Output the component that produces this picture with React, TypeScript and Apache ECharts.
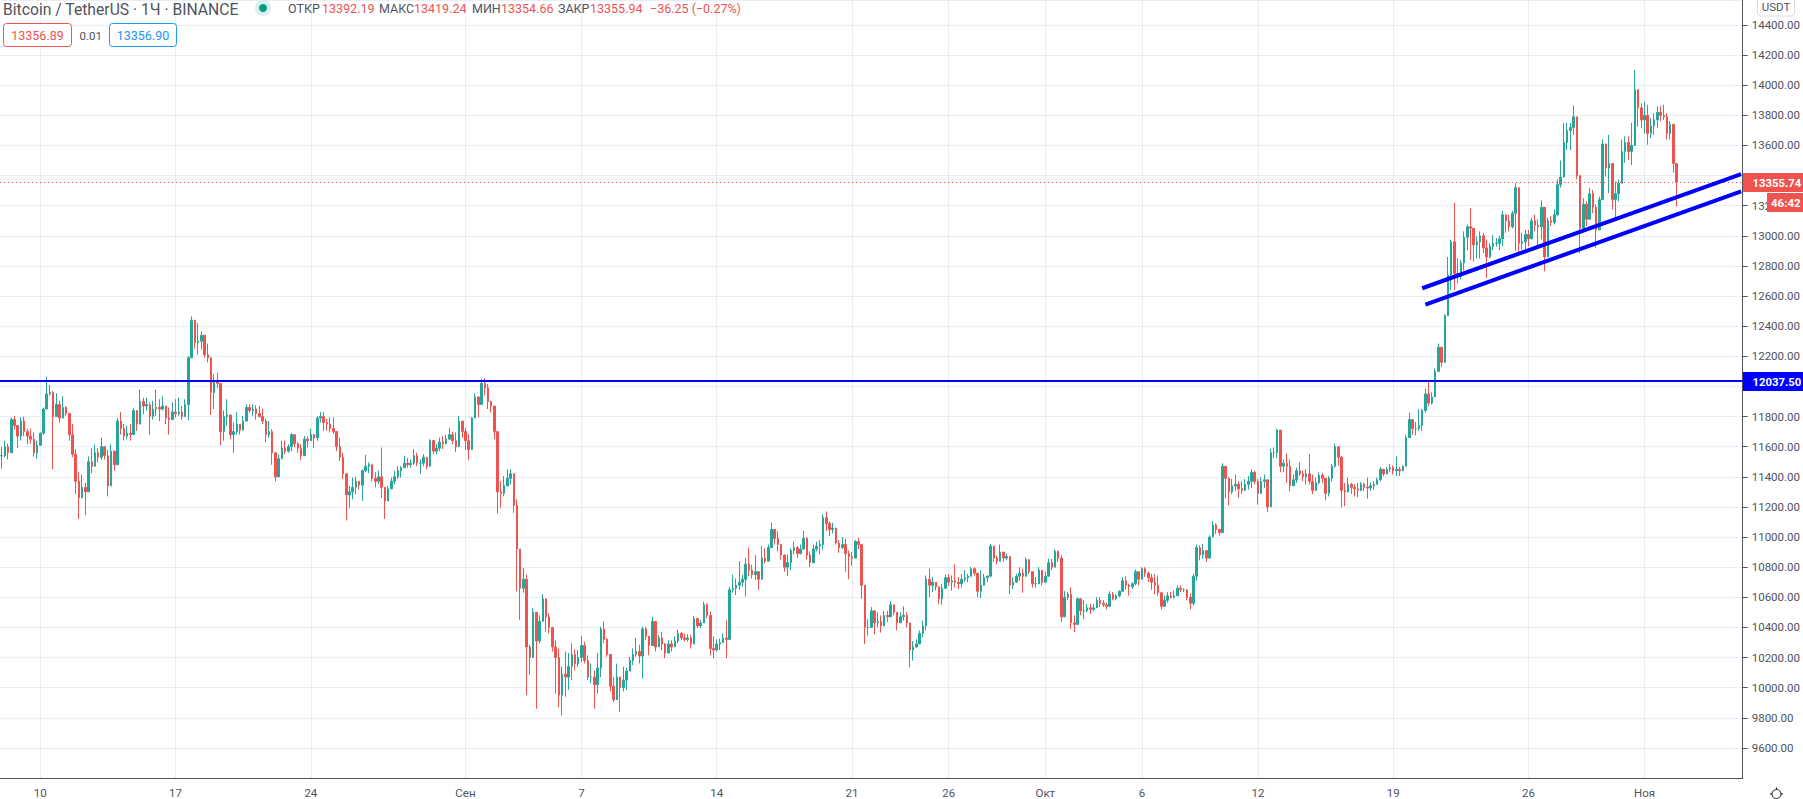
import { useEffect, useRef } from 'react'
import * as echarts from 'echarts'

// 4h candles, starting at the left edge of the plot
const closes = [
  11540,11600,11560,11780,11740,11670,11770,11700,11670,11650,
  11560,11610,11690,11850,11950,11960,11800,11880,11790,11860,
  11820,11680,11550,11370,11260,11330,11300,11500,11470,11560,
  11530,11600,11540,11340,11570,11480,11770,11720,11670,11690,
  11680,11840,11750,11900,11870,11880,11800,11850,11860,11850,
  11870,11790,11780,11830,11820,11830,11800,11880,12190,12440,
  12290,12300,12340,12210,12190,11960,12040,12020,11700,11800,
  11810,11680,11700,11750,11710,11770,11860,11840,11850,11820,
  11800,11770,11680,11700,11560,11400,11520,11590,11570,11600,
  11680,11620,11590,11540,11650,11640,11680,11660,11790,11800,
  11760,11750,11720,11700,11600,11530,11420,11280,11300,11330,
  11370,11345,11440,11470,11480,11390,11370,11400,11330,11240,
  11320,11370,11400,11440,11460,11490,11480,11490,11540,11490,
  11490,11530,11470,11640,11570,11590,11630,11620,11650,11680,
  11640,11600,11770,11700,11640,11580,11790,11930,11880,12020,
  11990,11900,11870,11700,11300,11290,11340,11390,11420,11210,
  10920,10660,10720,10270,10200,10500,10310,10440,10590,10470,
  10400,10270,10200,9950,10090,10070,10140,10220,10160,10200,
  10280,10180,10070,10070,10020,10130,10390,10320,10220,10010,
  9920,10070,10000,10050,10110,10180,10220,10240,10210,10390,
  10340,10280,10440,10270,10330,10290,10230,10290,10270,10310,
  10360,10330,10320,10330,10290,10460,10410,10430,10550,10480,
  10260,10250,10290,10300,10330,10320,10650,10660,10680,10700,
  10720,10820,10780,10750,10770,10720,10860,10840,10930,11050,
  10990,10950,10880,10800,10830,10910,10930,10890,10920,10990,
  10880,10830,10920,10940,10950,11130,11090,11050,11060,10960,
  10930,10950,10890,10870,10860,10970,10950,10680,10400,10400,
  10510,10430,10440,10410,10480,10470,10550,10500,10430,10470,
  10480,10430,10250,10270,10290,10360,10410,10720,10680,10700,
  10670,10590,10660,10730,10700,10710,10700,10690,10720,10730,
  10740,10790,10760,10640,10680,10730,10740,10940,10860,10840,
  10900,10860,10870,10680,10700,10740,10760,10740,10850,10770,
  10690,10690,10780,10700,10740,10830,10800,10905,10860,10470,
  10600,10620,10430,10420,10590,10510,10510,10530,10520,10530,
  10580,10560,10550,10540,10620,10590,10610,10640,10710,10680,
  10670,10690,10770,10720,10790,10760,10730,10700,10680,10630,
  10540,10580,10610,10600,10610,10660,10650,10650,10600,10560,
  10740,10930,10880,10910,10860,11000,11080,11050,11030,11470,
  11390,11300,11340,11350,11320,11310,11350,11370,11430,11370,
  11290,11370,11380,11200,11560,11560,11710,11470,11490,11470,
  11340,11380,11440,11420,11400,11420,11370,11310,11360,11410,
  11390,11290,11390,11470,11600,11530,11310,11300,11350,11330,
  11320,11310,11350,11330,11325,11340,11350,11380,11450,11420,
  11450,11460,11440,11450,11440,11470,11660,11780,11720,11720,
  11740,11840,11950,11890,11930,12100,12260,12160,12470,12740,
  12960,12750,12730,12820,12990,13060,13050,12940,12960,13000,
  12920,12860,12930,12950,12950,12980,13140,13100,13060,13150,
  13320,12950,12960,13010,12980,13100,13070,13060,13190,12860,
  13100,13090,13140,13340,13390,13620,13700,13720,13790,13400,
  13050,13210,13110,13280,13190,13040,13240,13610,13450,13480,
  13240,13280,13350,13560,13620,13560,13600,13970,13850,13770,
  13800,13680,13730,13770,13820,13800,13790,13680,13740,13480,
  13355.94,
]

const highs = [
  11600,11640,11620,11795,11805,11740,11795,11800,11720,11720,
  11695,11640,11695,11860,12066,12010,11970,11955,11905,11935,
  11870,11770,11750,11583,11430,11415,11360,11535,11590,11615,
  11590,11660,11595,11580,11615,11550,11790,11830,11750,11740,
  11750,11855,11830,11980,11925,11925,11895,11905,11980,11915,
  11935,11870,11860,11895,11915,11925,11870,11915,12200,12465,
  12400,12420,12365,12280,12285,12130,12080,12090,11955,11840,
  11915,11780,11760,11830,11750,11805,11880,11880,11880,11875,
  11870,11850,11785,11770,11715,11490,11550,11640,11640,11615,
  11690,11680,11630,11615,11670,11670,11720,11685,11805,11830,
  11830,11785,11795,11795,11695,11660,11560,11395,11340,11395,
  11400,11370,11450,11545,11495,11450,11430,11440,11595,11305,
  11340,11395,11440,11470,11470,11540,11525,11515,11585,11560,
  11515,11550,11525,11650,11625,11615,11660,11670,11680,11725,
  11700,11695,11805,11750,11725,11685,11795,11955,11935,12049,
  12053,12016,11905,11805,11585,11372,11405,11450,11450,11400,
  11250,10920,10795,10750,10285,10530,10500,10480,10620,10550,
  10495,10350,10315,10260,10140,10240,10230,10295,10255,10250,
  10345,10305,10215,10160,10115,10230,10405,10440,10330,10160,
  10070,10160,10070,10140,10130,10205,10260,10330,10285,10405,
  10405,10315,10470,10430,10350,10370,10295,10315,10315,10340,
  10385,10370,10360,10355,10350,10475,10460,10450,10570,10560,
  10505,10340,10320,10325,10360,10450,10670,10750,10725,10840,
  10750,10860,10930,10815,10880,10770,10940,10925,10950,11095,
  11040,11040,10925,10885,10885,10925,10970,10940,10950,11040,
  11000,10905,10950,10970,10980,11150,11170,11105,11095,11050,
  10980,11000,10990,10910,10900,10980,10995,10920,10645,10455,
  10535,10490,10500,10480,10510,10510,10575,10535,10490,10500,
  10540,10500,10410,10310,10320,10380,10445,10745,10790,10735,
  10700,10655,10690,10750,10755,10745,10820,10735,10755,10780,
  10755,10800,10800,10700,10780,10755,10745,10955,10920,10875,
  10950,10890,10890,10855,10735,10755,10800,10790,10865,10835,
  10755,10735,10800,10755,10770,10855,10855,10920,10910,10880,
  10640,10635,10665,10480,10600,10555,10580,10555,10555,10555,
  10600,10600,10580,10565,10640,10635,10620,10645,10735,10740,
  10690,10700,10785,10745,10800,10800,10770,10755,10755,10745,
  10610,10610,10635,10635,10645,10680,10680,10660,10645,10625,
  10755,10950,10945,10955,10900,11010,11105,11090,11055,11490,
  11450,11395,11385,11415,11370,11370,11385,11405,11450,11440,
  11385,11395,11415,11340,11587,11595,11720,11640,11515,11555,
  11515,11415,11460,11495,11440,11450,11550,11415,11395,11430,
  11425,11350,11405,11485,11620,11545,11540,11360,11395,11360,
  11350,11360,11365,11360,11395,11360,11370,11395,11465,11450,
  11465,11485,11475,11535,11465,11475,11675,11825,11770,11765,
  11850,11850,11985,12040,11960,12120,12285,12265,12480,12860,
  12975,13220,12850,12840,13030,13075,13185,13030,12995,13030,
  13020,12975,12950,13005,12985,13000,13165,13140,13140,13165,
  13350,13050,13020,13040,13040,13120,13140,13110,13235,13040,
  13120,13130,13175,13375,13500,13750,13750,13750,13865,13715,
  13400,13250,13230,13320,13305,13210,13260,13640,13560,13670,
  13420,13360,13375,13640,13660,13660,13750,14100,13945,13880,
  13890,13870,13780,13815,13860,13860,13870,13815,13760,13580,
  13440,
]

const lows = [
  11454,11530,11515,11615,11715,11590,11640,11670,11615,11620,
  11535,11520,11615,11680,11915,11938,11450,11825,11760,11795,
  11805,11640,11530,11285,11120,11295,11145,11415,11425,11470,
  11495,11515,11515,11270,11370,11440,11495,11680,11640,11650,
  11640,11740,11705,11815,11815,11840,11680,11780,11805,11770,
  11840,11750,11680,11805,11795,11805,11780,11840,11775,12200,
  12250,12210,12245,12190,12160,11810,11850,11990,11610,11640,
  11740,11650,11560,11680,11680,11735,11805,11825,11805,11780,
  11795,11750,11630,11660,11480,11370,11405,11535,11550,11560,
  11570,11595,11560,11510,11550,11595,11640,11590,11640,11760,
  11705,11705,11695,11685,11570,11505,11385,11110,11195,11250,
  11285,11315,11240,11430,11425,11370,11330,11350,11260,11120,
  11250,11330,11350,11385,11395,11460,11460,11460,11480,11470,
  11420,11470,11450,11470,11550,11550,11570,11585,11615,11660,
  11615,11565,11640,11660,11580,11510,11600,11790,11795,11938,
  11942,11850,11827,11650,11157,11195,11270,11340,11350,11160,
  10640,10450,10630,9950,10085,10340,9860,10295,10450,10370,
  10360,10240,9960,9870,9815,9940,9985,10050,10115,10140,
  10170,10160,10050,10030,9860,9960,10070,10295,10205,9975,
  9905,9960,9840,9975,9985,10130,10150,10205,10160,10060,
  10315,10215,10315,10240,10270,10250,10195,10240,10240,10285,
  10295,10315,10305,10305,10260,10340,10395,10395,10505,10460,
  10215,10195,10240,10250,10295,10195,10430,10630,10615,10650,
  10670,10605,10740,10725,10715,10650,10750,10825,10860,10940,
  10950,10905,10850,10770,10740,10780,10885,10860,10885,10925,
  10850,10800,10840,10905,10885,10915,11040,11005,11025,10950,
  10895,10920,10770,10720,10810,10920,10920,10590,10290,10345,
  10420,10355,10400,10365,10420,10435,10480,10480,10380,10445,
  10445,10400,10135,10180,10265,10300,10335,10380,10600,10635,
  10645,10555,10550,10655,10675,10645,10665,10655,10665,10700,
  10700,10755,10745,10600,10595,10700,10700,10735,10835,10820,
  10845,10835,10845,10620,10655,10700,10710,10630,10735,10755,
  10665,10665,10720,10680,10700,10780,10780,10800,10835,10435,
  10490,10580,10390,10370,10425,10480,10455,10500,10490,10510,
  10535,10535,10535,10520,10555,10580,10580,10600,10635,10650,
  10610,10655,10680,10680,10720,10735,10700,10650,10620,10610,
  10520,10545,10565,10590,10590,10620,10635,10635,10580,10520,
  10545,10710,10845,10855,10835,10855,11010,11020,11010,11085,
  11260,11210,11285,11305,11260,11285,11315,11315,11325,11350,
  11215,11340,11325,11165,11270,11525,11525,11430,11430,11360,
  11305,11340,11360,11405,11370,11350,11350,11285,11325,11350,
  11360,11245,11270,11370,11460,11475,11195,11205,11295,11285,
  11270,11265,11305,11305,11255,11305,11315,11360,11370,11405,
  11415,11430,11415,11405,11405,11440,11505,11670,11680,11675,
  11705,11705,11825,11870,11880,11990,12120,12130,12270,12480,
  12640,12640,12685,12710,12770,12905,12840,12830,12850,12850,
  12885,12720,12850,12905,12930,12905,12930,13020,13030,13050,
  12900,12890,12910,12910,12930,12985,13030,12930,12975,12765,
  13020,13065,13075,13130,13320,13440,13570,13570,13670,13375,
  12885,13040,13065,13120,13150,12920,13040,13305,13395,13285,
  13175,13120,13230,13470,13485,13505,13470,13615,13725,13715,
  13680,13605,13650,13670,13715,13760,13770,13640,13640,13420,
  13195,
]

const slotCount = 541
const dateTickSlots = [12, 54, 96, 144, 180, 222, 264, 294, 324, 354, 390, 432, 474, 510]
const dateTickLabels = ['10', '17', '24', 'Сен', '7', '14', '21', '26', 'Окт', '6', '12', '19', '26', 'Ноя']

const levelPrice = 12037.5
const lastPrice = 13355.74
const trendUpper = [[441, 12652], [540, 13410]]
const trendLower = [[442, 12544], [540, 13295]]

const UP = '#26a69a'
const DOWN = '#ef5350'
const TEXT = '#50535e'
const GRID = '#e6eef4'
const BLUE = '#0000ff'
const FONT = 'Roboto, sans-serif'

const categories = Array.from({ length: slotCount }, (_, i) => {
  const t = dateTickSlots.indexOf(i)
  return t >= 0 ? dateTickLabels[t] : ''
})
const isDateTick = (i: number) => dateTickSlots.includes(i)

const candles = closes.map((c, i) => [i ? closes[i - 1] : c, c, lows[i], highs[i]])

// these tick labels sit under the price tags on the right, only "132" still shows
function priceLabel(v: number) {
  if (v === 12000 || v === 13400) return ''
  if (v === 13200) return '132'
  return v.toFixed(2)
}

function label(text: string, x: number, y: number, fill: string, size = 12.5, align = 'left', weight = 'normal') {
  return {
    type: 'text',
    z: 100,
    x,
    y,
    style: { text, fill, font: `${weight} ${size}px ${FONT}`, textAlign: align, textVerticalAlign: 'middle' },
  }
}

function box(x: number, y: number, width: number, height: number, fill: string, stroke = 'none', r = 0) {
  return {
    type: 'rect',
    z: 99,
    shape: { x, y, width, height, r },
    style: { fill, stroke },
  }
}

function App() {
  const chartRef = useRef<HTMLDivElement>(null)

  useEffect(() => {
    if (!chartRef.current) return
    const chart = echarts.init(chartRef.current, undefined, { renderer: 'svg' })

    const trendLine = (data: number[][]) => ({
      type: 'line',
      data,
      showSymbol: false,
      silent: true,
      z: 5,
      lineStyle: { color: BLUE, width: 4 },
    })

    chart.setOption({
      animation: false,
      backgroundColor: '#ffffff',
      grid: { left: 0, top: 0, width: 1743, height: 779 },
      xAxis: {
        type: 'category',
        data: categories,
        axisLine: { lineStyle: { color: TEXT } },
        axisTick: { alignWithLabel: true, interval: isDateTick, length: 3, lineStyle: { color: TEXT } },
        axisLabel: { interval: isDateTick, color: TEXT, fontFamily: FONT, fontSize: 11.5, margin: 9 },
        splitLine: { show: true, alignWithLabel: true, interval: isDateTick, lineStyle: { color: GRID } },
      },
      yAxis: {
        type: 'value',
        position: 'right',
        min: 9400,
        max: 14566,
        interval: 200,
        axisLine: { show: true, lineStyle: { color: TEXT } },
        axisTick: { show: true, length: 5, lineStyle: { color: TEXT } },
        axisLabel: {
          color: TEXT,
          fontFamily: FONT,
          fontSize: 11.5,
          margin: 9,
          showMinLabel: false,
          showMaxLabel: false,
          formatter: priceLabel,
        },
        splitLine: { lineStyle: { color: GRID } },
      },
      series: [
        {
          type: 'candlestick',
          data: candles,
          barWidth: 2,
          itemStyle: {
            color: UP,
            color0: DOWN,
            borderColor: UP,
            borderColor0: DOWN,
            borderWidth: 1,
          },
          markLine: {
            silent: true,
            symbol: 'none',
            label: { show: false },
            data: [
              { yAxis: levelPrice, lineStyle: { color: BLUE, width: 2, type: 'solid' } },
              { yAxis: lastPrice, lineStyle: { color: DOWN, width: 1, type: [1, 3] } },
            ],
          },
        },
        trendLine(trendUpper),
        trendLine(trendLower),
      ],
      graphic: [
        label('Bitcoin / TetherUS · 1Ч · BINANCE', 3, 9, TEXT, 15.7),
        { type: 'circle', z: 99, shape: { cx: 263, cy: 8, r: 8 }, style: { fill: '#d9efec' } },
        { type: 'circle', z: 100, shape: { cx: 263, cy: 8, r: 4 }, style: { fill: '#089981' } },
        label('ОТКР', 288, 8, TEXT),
        label('13392.19', 322, 8, DOWN),
        label('МАКС', 379, 8, TEXT),
        label('13419.24', 414, 8, DOWN),
        label('МИН', 472, 8, TEXT),
        label('13354.66', 501, 8, DOWN),
        label('ЗАКР', 558, 8, TEXT),
        label('13355.94', 590, 8, DOWN),
        label('−36.25 (−0.27%)', 650, 8, DOWN),
        box(3.5, 23.5, 68, 23, '#ffffff', DOWN, 3),
        label('13356.89', 37.5, 35.5, DOWN, 12.5, 'center'),
        label('0.01', 79.5, 35.5, TEXT, 11.5),
        box(109.5, 23.5, 67, 23, '#ffffff', '#2196f3', 3),
        label('13356.90', 143, 35.5, '#2196f3', 12.5, 'center'),
        box(1757.5, -4, 37, 20, '#ffffff', '#d6dce4', 3),
        label('USDT', 1776, 7, TEXT, 11.5, 'center'),
        box(1743, 173, 60, 19, DOWN),
        label('13355.74', 1752.5, 183, '#ffffff', 11.3, 'left', 'bold'),
        box(1767, 193, 36, 19, DOWN),
        label('46:42', 1771, 203, '#ffffff', 11.5, 'left', 'bold'),
        box(1743, 372, 60, 19, BLUE),
        label('12037.50', 1752.5, 382, '#ffffff', 11.3, 'left', 'bold'),
        { type: 'circle', z: 100, shape: { cx: 1776.5, cy: 794, r: 4.5 }, style: { fill: '#ffffff', stroke: '#131722' } },
        { type: 'line', z: 100, shape: { x1: 1776.5, y1: 787.5, x2: 1776.5, y2: 789.5 }, style: { stroke: '#131722' } },
        { type: 'line', z: 100, shape: { x1: 1770, y1: 794, x2: 1772, y2: 794 }, style: { stroke: '#131722' } },
        { type: 'line', z: 100, shape: { x1: 1781, y1: 794, x2: 1783, y2: 794 }, style: { stroke: '#131722' } },
      ],
    })

    return () => {
      chart.dispose()
    }
  }, [])

  return <div ref={chartRef} style={{ position: 'absolute', left: 0, top: 0, width: 1803, height: 799 }} />
}

export default App
